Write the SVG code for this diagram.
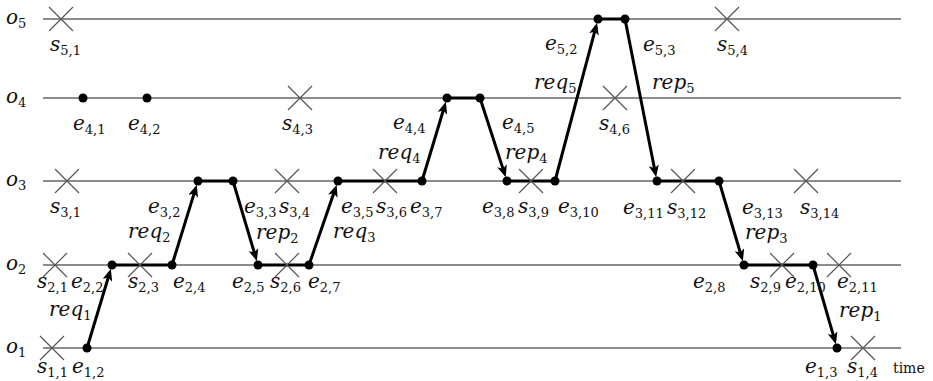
<svg xmlns="http://www.w3.org/2000/svg" width="933" height="381" viewBox="0 0 933 381">
<style>
text{font-family:"DejaVu Serif","Liberation Serif",serif;font-size:20px;font-style:italic;fill:#111}
.s{font-size:13px;font-style:normal}
.time{font-size:14px;font-style:normal}
.axis{stroke:#666;stroke-width:1.5;fill:none}
.x{stroke:#555;stroke-width:1.2;fill:none}
.path{stroke:#000;stroke-width:3;fill:none}
.arr{stroke:#000;stroke-width:3;fill:none;marker-end:url(#ah)}
.dot{fill:#000}
</style>
<defs>
<marker id="ah" viewBox="0 0 12 10" refX="8" refY="5" markerWidth="12" markerHeight="10" markerUnits="userSpaceOnUse" orient="auto">
<path d="M0,0 L12,5 L0,10 L3,5 Z" fill="#000"/>
</marker>
<path id="cx" class="x" d="M-12,-12 L12,12 M-12,12 L12,-12"/>
</defs>

<g id="axes">
<line class="axis" x1="43" y1="19" x2="901" y2="19"/>
<line class="axis" x1="43" y1="98" x2="901" y2="98"/>
<line class="axis" x1="43" y1="181" x2="901" y2="181"/>
<line class="axis" x1="43" y1="265" x2="901" y2="265"/>
<line class="axis" x1="43" y1="348" x2="901" y2="348"/>
<text x="6" y="24">o<tspan class="s" dy="4">5</tspan></text>
<text x="6" y="103">o<tspan class="s" dy="4">4</tspan></text>
<text x="6" y="186">o<tspan class="s" dy="4">3</tspan></text>
<text x="6" y="270">o<tspan class="s" dy="4">2</tspan></text>
<text x="6" y="353">o<tspan class="s" dy="4">1</tspan></text>
<text class="time" x="893" y="373">time</text>
</g>

<g id="connectors">
<line class="path" x1="112" y1="265" x2="172" y2="265"/>
<line class="path" x1="198" y1="181" x2="233" y2="181"/>
<line class="path" x1="258" y1="265" x2="309" y2="265"/>
<line class="path" x1="338" y1="181" x2="422" y2="181"/>
<line class="path" x1="447" y1="98" x2="480" y2="98"/>
<line class="path" x1="507" y1="181" x2="555" y2="181"/>
<line class="path" x1="598" y1="19" x2="625" y2="19"/>
<line class="path" x1="657" y1="181" x2="719" y2="181"/>
<line class="path" x1="744" y1="265" x2="813" y2="265"/>
<line class="arr" x1="87" y1="348" x2="109.7" y2="272.7"/>
<line class="arr" x1="172" y1="265" x2="195.6" y2="188.6"/>
<line class="arr" x1="233" y1="181" x2="255.7" y2="257.3"/>
<line class="arr" x1="309" y1="265" x2="335.4" y2="188.6"/>
<line class="arr" x1="422" y1="181" x2="444.7" y2="105.7"/>
<line class="arr" x1="480" y1="98" x2="504.5" y2="173.4"/>
<line class="arr" x1="555" y1="181" x2="596.0" y2="26.7"/>
<line class="arr" x1="625" y1="19" x2="655.4" y2="173.2"/>
<line class="arr" x1="719" y1="181" x2="741.7" y2="257.3"/>
<line class="arr" x1="813" y1="265" x2="834.8" y2="340.3"/>
<text x="49" y="316">req<tspan class="s" dy="4">1</tspan></text>
<text x="128" y="238">req<tspan class="s" dy="4">2</tspan></text>
<text x="256" y="239">rep<tspan class="s" dy="4">2</tspan></text>
<text x="333" y="238">req<tspan class="s" dy="4">3</tspan></text>
<text x="378" y="159">req<tspan class="s" dy="4">4</tspan></text>
<text x="505" y="159">rep<tspan class="s" dy="4">4</tspan></text>
<text x="534" y="89">req<tspan class="s" dy="4">5</tspan></text>
<text x="652" y="89">rep<tspan class="s" dy="4">5</tspan></text>
<text x="745" y="239">rep<tspan class="s" dy="4">3</tspan></text>
<text x="839" y="317">rep<tspan class="s" dy="4">1</tspan></text>
</g>

<!-- o5 -->
<g id="s5_1"><use href="#cx" x="61" y="19"/><text x="50" y="51">s<tspan class="s" dy="4">5,1</tspan></text></g>
<g id="e5_2"><circle class="dot" cx="598" cy="19" r="4.5"/><text x="545" y="50">e<tspan class="s" dy="4">5,2</tspan></text></g>
<g id="e5_3"><circle class="dot" cx="625" cy="19" r="4.5"/><text x="643" y="51">e<tspan class="s" dy="4">5,3</tspan></text></g>
<g id="s5_4"><use href="#cx" x="727" y="19"/><text x="717" y="51">s<tspan class="s" dy="4">5,4</tspan></text></g>

<!-- o4 -->
<g id="e4_1"><circle class="dot" cx="83" cy="98" r="4.5"/><text x="73" y="130">e<tspan class="s" dy="4">4,1</tspan></text></g>
<g id="e4_2"><circle class="dot" cx="147" cy="98" r="4.5"/><text x="128" y="130">e<tspan class="s" dy="4">4,2</tspan></text></g>
<g id="s4_3"><use href="#cx" x="300" y="98"/><text x="282" y="130">s<tspan class="s" dy="4">4,3</tspan></text></g>
<g id="e4_4"><circle class="dot" cx="447" cy="98" r="4.5"/><text x="393" y="129">e<tspan class="s" dy="4">4,4</tspan></text></g>
<g id="e4_5"><circle class="dot" cx="480" cy="98" r="4.5"/><text x="502" y="129">e<tspan class="s" dy="4">4,5</tspan></text></g>
<g id="s4_6"><use href="#cx" x="615" y="98"/><text x="599" y="130">s<tspan class="s" dy="4">4,6</tspan></text></g>

<!-- o3 -->
<g id="s3_1"><use href="#cx" x="67" y="181"/><text x="50" y="213">s<tspan class="s" dy="4">3,1</tspan></text></g>
<g id="e3_2"><circle class="dot" cx="198" cy="181" r="4.5"/><text x="148" y="213">e<tspan class="s" dy="4">3,2</tspan></text></g>
<g id="e3_3"><circle class="dot" cx="233" cy="181" r="4.5"/><text x="244" y="213">e<tspan class="s" dy="4">3,3</tspan></text></g>
<g id="s3_4"><use href="#cx" x="287" y="181"/><text x="279" y="213">s<tspan class="s" dy="4">3,4</tspan></text></g>
<g id="e3_5"><circle class="dot" cx="338" cy="181" r="4.5"/><text x="341" y="213">e<tspan class="s" dy="4">3,5</tspan></text></g>
<g id="s3_6"><use href="#cx" x="385" y="181"/><text x="376" y="213">s<tspan class="s" dy="4">3,6</tspan></text></g>
<g id="e3_7"><circle class="dot" cx="422" cy="181" r="4.5"/><text x="410" y="213">e<tspan class="s" dy="4">3,7</tspan></text></g>
<g id="e3_8"><circle class="dot" cx="507" cy="181" r="4.5"/><text x="482" y="213">e<tspan class="s" dy="4">3,8</tspan></text></g>
<g id="s3_9"><use href="#cx" x="531" y="181"/><text x="518" y="213">s<tspan class="s" dy="4">3,9</tspan></text></g>
<g id="e3_10"><circle class="dot" cx="555" cy="181" r="4.5"/><text x="558" y="213">e<tspan class="s" dy="4">3,10</tspan></text></g>
<g id="e3_11"><circle class="dot" cx="657" cy="181" r="4.5"/><text x="623" y="214">e<tspan class="s" dy="4">3,11</tspan></text></g>
<g id="s3_12"><use href="#cx" x="683" y="181"/><text x="667" y="214">s<tspan class="s" dy="4">3,12</tspan></text></g>
<g id="e3_13"><circle class="dot" cx="719" cy="181" r="4.5"/><text x="742" y="214">e<tspan class="s" dy="4">3,13</tspan></text></g>
<g id="s3_14"><use href="#cx" x="806" y="181"/><text x="800" y="214">s<tspan class="s" dy="4">3,14</tspan></text></g>

<!-- o2 -->
<g id="s2_1"><use href="#cx" x="55" y="265"/><text x="37" y="288">s<tspan class="s" dy="4">2,1</tspan></text></g>
<g id="e2_2"><circle class="dot" cx="112" cy="265" r="4.5"/><text x="71" y="288">e<tspan class="s" dy="4">2,2</tspan></text></g>
<g id="s2_3"><use href="#cx" x="140" y="265"/><text x="128" y="288">s<tspan class="s" dy="4">2,3</tspan></text></g>
<g id="e2_4"><circle class="dot" cx="172" cy="265" r="4.5"/><text x="173" y="288">e<tspan class="s" dy="4">2,4</tspan></text></g>
<g id="e2_5"><circle class="dot" cx="258" cy="265" r="4.5"/><text x="232" y="288">e<tspan class="s" dy="4">2,5</tspan></text></g>
<g id="s2_6"><use href="#cx" x="287" y="265"/><text x="270" y="288">s<tspan class="s" dy="4">2,6</tspan></text></g>
<g id="e2_7"><circle class="dot" cx="309" cy="265" r="4.5"/><text x="308" y="288">e<tspan class="s" dy="4">2,7</tspan></text></g>
<g id="e2_8"><circle class="dot" cx="744" cy="265" r="4.5"/><text x="693" y="288">e<tspan class="s" dy="4">2,8</tspan></text></g>
<g id="s2_9"><use href="#cx" x="782" y="265"/><text x="750" y="288">s<tspan class="s" dy="4">2,9</tspan></text></g>
<g id="e2_10"><circle class="dot" cx="813" cy="265" r="4.5"/><text x="785" y="288">e<tspan class="s" dy="4">2,10</tspan></text></g>
<g id="s2_11"><use href="#cx" x="839" y="265"/><text x="837" y="288">e<tspan class="s" dy="4">2,11</tspan></text></g>

<!-- o1 -->
<g id="s1_1"><use href="#cx" x="52" y="348"/><text x="37" y="373">s<tspan class="s" dy="4">1,1</tspan></text></g>
<g id="e1_2"><circle class="dot" cx="87" cy="348" r="4.5"/><text x="72" y="373">e<tspan class="s" dy="4">1,2</tspan></text></g>
<g id="e1_3"><circle class="dot" cx="837" cy="348" r="4.5"/><text x="805" y="373">e<tspan class="s" dy="4">1,3</tspan></text></g>
<g id="s1_4"><use href="#cx" x="863" y="348"/><text x="847" y="373">s<tspan class="s" dy="4">1,4</tspan></text></g>
</svg>
